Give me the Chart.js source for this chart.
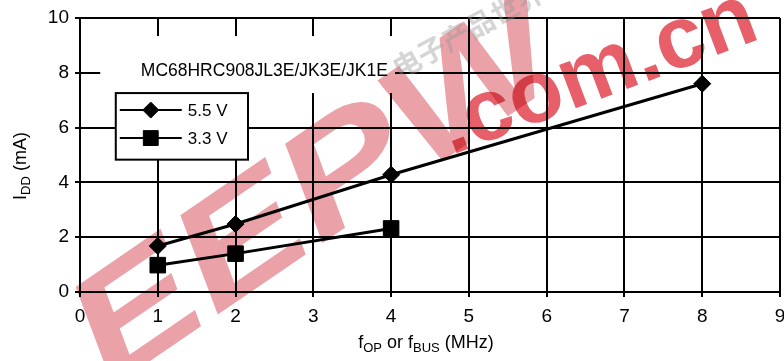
<!DOCTYPE html>
<html>
<head>
<meta charset="utf-8">
<script src="https://cdn.jsdelivr.net/npm/chart.js@4/dist/chart.umd.min.js"></script>
<style>
  html, body { margin: 0; padding: 0; background: #fff; overflow: hidden; }
  #wrap { width: 784px; height: 361px; position: relative; }
  canvas { display: block; }
</style>
</head>
<body>
<div id="wrap"><canvas id="iddChart" width="784" height="361"></canvas></div>
<script>
// values
var freq55 = [1, 2, 4, 8];
var idd55 = [1.68, 2.48, 4.28, 7.6];
var freq33 = [1, 2, 4];
var idd33 = [0.98, 1.4, 2.32];
var xTicks = [0, 1, 2, 3, 4, 5, 6, 7, 8, 9];
var yTicks = [0, 2, 4, 6, 8, 10];
var seriesNames = ["5.5 V", "3.3 V"];
var partName = "MC68HRC908JL3E/JK3E/JK1E";

var FONT = "'Liberation Sans', Arial, Helvetica, sans-serif";
var NARROW = "'Liberation Sans Narrow', 'Arial Narrow', 'Liberation Sans', sans-serif";

function toPoints(xs, ys) {
    var pts = [];
    for (var i = 0; i < xs.length; i++) {
        pts.push({ x: xs[i], y: ys[i] });
    }
    return pts;
}

// text with subscripts, parts = [[text, isSub], ...]
function drawSubText(ctx, parts, cx, cy) {
    var main = "18px " + FONT, sub = "13px " + FONT;
    var total = 0;
    parts.forEach(function (p) {
        ctx.font = p[1] ? sub : main;
        total += ctx.measureText(p[0]).width;
    });
    var x = cx - total / 2;
    ctx.textAlign = "left";
    ctx.textBaseline = "middle";
    parts.forEach(function (p) {
        ctx.font = p[1] ? sub : main;
        ctx.fillText(p[0], x, p[1] ? cy + 5 : cy);
        x += ctx.measureText(p[0]).width;
    });
}

var boxesPlugin = {
    id: "boxes",
    beforeDatasetsDraw: function (chart) {
        var ctx = chart.ctx;
        var xs = chart.scales.x, ys = chart.scales.y;
        ctx.save();
        // white panel behind the part name
        var tx0 = xs.getPixelForValue(0.26), tx1 = xs.getPixelForValue(4.05);
        var ty0 = ys.getPixelForValue(9.34), ty1 = ys.getPixelForValue(7.26);
        ctx.fillStyle = "#fff";
        ctx.fillRect(tx0, ty0, tx1 - tx0, ty1 - ty0);
        ctx.fillStyle = "#000";
        ctx.font = "17.5px " + FONT;
        ctx.textAlign = "center";
        ctx.textBaseline = "middle";
        ctx.fillText(partName, xs.getPixelForValue(2.37), ys.getPixelForValue(8.05));

        // legend box
        var lx0 = xs.getPixelForValue(0.46), lx1 = xs.getPixelForValue(2.16);
        var ly0 = ys.getPixelForValue(7.26), ly1 = ys.getPixelForValue(4.83);
        ctx.fillStyle = "#fff";
        ctx.fillRect(lx0, ly0, lx1 - lx0, ly1 - ly0);
        ctx.lineWidth = 2;
        ctx.strokeStyle = "#000";
        ctx.strokeRect(lx0, ly0, lx1 - lx0, ly1 - ly0);
        chart.data.datasets.forEach(function (ds, i) {
            var y = ly0 + 17 + i * 28;
            ctx.beginPath();
            ctx.moveTo(lx0 + 4, y);
            ctx.lineTo(lx0 + 66, y);
            ctx.lineWidth = 2;
            ctx.stroke();
            ctx.fillStyle = "#000";
            ctx.strokeStyle = "#000";
            ctx.lineWidth = 1;
            Chart.helpers.drawPoint(ctx, {
                pointStyle: ds.pointStyle,
                radius: i === 0 ? 8 : 10.5,
                borderWidth: 1
            }, lx0 + 35, y);
            ctx.font = "17px " + FONT;
            ctx.textAlign = "left";
            ctx.textBaseline = "middle";
            ctx.fillText(ds.label, lx0 + 72, y + 1);
        });
        ctx.restore();
    },
    afterDraw: function (chart) {
        var ctx = chart.ctx;
        ctx.save();
        ctx.fillStyle = "#000";
        drawSubText(ctx, [["f", false], ["OP", true], [" or f", false], ["BUS", true], [" (MHz)", false]],
            426, 343);
        ctx.translate(21, 166);
        ctx.rotate(-Math.PI / 2);
        drawSubText(ctx, [["I", false], ["DD", true], [" (mA)", false]], 0, 0);
        ctx.restore();

        // site watermark laid over the chart
        ctx.save();
        ctx.globalCompositeOperation = "multiply";
        ctx.translate(318, 196);
        ctx.rotate(-0.6);
        ctx.font = "italic bold 150px " + FONT;
        var w = ctx.measureText("EEPW").width;
        ctx.scale(560 / w, 1);
        ctx.fillStyle = "rgb(234,162,168)";
        ctx.textAlign = "center";
        ctx.textBaseline = "middle";
        ctx.fillText("EEPW", 0, 0);
        ctx.restore();

        ctx.save();
        ctx.globalCompositeOperation = "multiply";
        ctx.translate(598, 74);
        ctx.rotate(-0.36);
        ctx.font = "bold 88px " + FONT;
        ctx.fillStyle = "rgb(230,95,105)";
        ctx.textAlign = "center";
        ctx.textBaseline = "middle";
        ctx.fillText(".com.cn", 0, 0);
        ctx.restore();

        ctx.save();
        ctx.translate(468, 30);
        ctx.rotate(-0.5);
        ctx.font = "bold 28px 'Noto Sans CJK SC'";
        ctx.fillStyle = "rgba(150,150,150,0.4)";
        ctx.textAlign = "center";
        ctx.textBaseline = "middle";
        ctx.fillText("电子产品世界", 0, 0);
        ctx.restore();
    }
};

var canvas = document.getElementById("iddChart");
var iddChart = new Chart(canvas, {
    type: "line",
    data: {
        datasets: [{
            label: seriesNames[0],
            data: toPoints(freq55, idd55),
            borderColor: "#000",
            backgroundColor: "#000",
            borderWidth: 3,
            pointStyle: "rectRot",
            pointRadius: 8.5,
            pointBorderWidth: 1,
            tension: 0
        }, {
            label: seriesNames[1],
            data: toPoints(freq33, idd33),
            borderColor: "#000",
            backgroundColor: "#000",
            borderWidth: 3,
            pointStyle: "rect",
            pointRadius: 11,
            pointBorderWidth: 1,
            tension: 0
        }]
    },
    options: {
        responsive: false,
        maintainAspectRatio: false,
        animation: false,
        devicePixelRatio: 1,
        layout: { autoPadding: false, padding: { top: 18, right: 4, left: 0, bottom: 0 } },
        plugins: {
            legend: { display: false },
            tooltip: { enabled: false }
        },
        scales: {
            x: {
                type: "linear",
                min: 0,
                max: 9,
                afterBuildTicks: function (s) {
                    s.ticks = xTicks.map(function (v) { return { value: v }; });
                },
                afterFit: function (s) {
                    s.height = 69;
                    s.paddingLeft = 0;
                    s.paddingRight = 0;
                },
                grid: { color: "#000", lineWidth: 2, tickLength: 5 },
                border: { color: "#000", width: 2 },
                ticks: {
                    color: "#000",
                    padding: 8,
                    maxRotation: 0,
                    font: { family: NARROW, size: 19 }
                }
            },
            y: {
                type: "linear",
                min: 0,
                max: 10,
                afterBuildTicks: function (s) {
                    s.ticks = yTicks.map(function (v) { return { value: v }; });
                },
                afterFit: function (s) {
                    s.width = 80;
                    s.paddingTop = 0;
                    s.paddingBottom = 0;
                },
                grid: { color: "#000", lineWidth: 2, tickLength: 5 },
                border: { color: "#000", width: 2 },
                ticks: {
                    color: "#000",
                    padding: 6,
                    font: { family: NARROW, size: 19 }
                }
            }
        }
    },
    plugins: [boxesPlugin]
});
</script>
</body>
</html>
